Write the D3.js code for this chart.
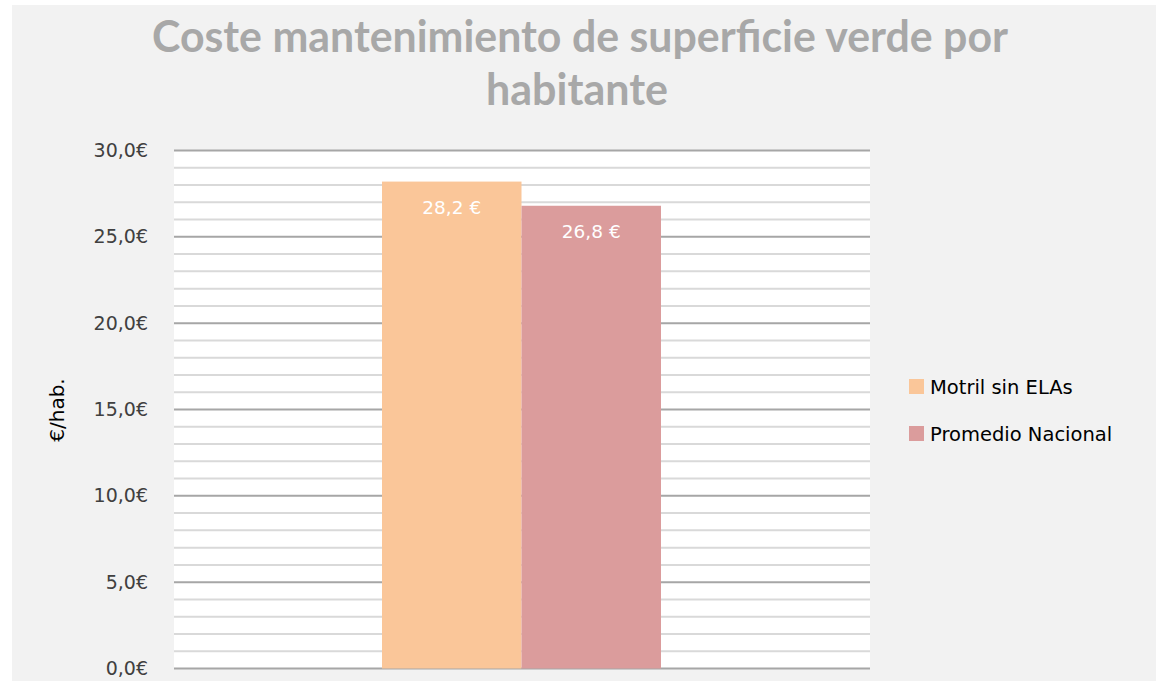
<!DOCTYPE html>
<html lang="es">
<head>
<meta charset="UTF-8">
<title>Coste mantenimiento de superficie verde por habitante</title>
<script src="https://d3js.org/d3.v7.min.js"></script>
<style>
  body { margin: 0; background: #fff; }
  svg { display: block; }
</style>
</head>
<body>
<div id="chart"></div>
<script>
// Data
const series = ["Motril sin ELAs", "Promedio Nacional"];
const values = [28.2, 26.8];
const colors = ["#fac699", "#db9c9c"];
const yTicks = [0, 5, 10, 15, 20, 25, 30];
const titleLines = ["Coste mantenimiento de superficie verde por", "habitante"];
const yLabel = "€/hab.";

const W = 1156, H = 681;
const plot = { left: 174, right: 870, top: 150.5, bottom: 668.5 };
const smallFont = "'DejaVu Sans', 'Open Sans', sans-serif";

const svg = d3.select("#chart").append("svg")
  .attr("width", W).attr("height", H);

// Chart background
svg.append("rect")
  .attr("x", 12).attr("y", 5)
  .attr("width", W - 12).attr("height", H - 5)
  .attr("fill", "#f2f2f2");

// Title
const title = svg.append("g")
  .attr("font-family", "Lato, 'Open Sans', sans-serif")
  .attr("font-weight", "bold")
  .attr("font-size", 43)
  .attr("fill", "#a8a8a8")
  .attr("text-anchor", "middle");
title.append("text").attr("x", 580).attr("y", 52).text(titleLines[0])
  .attr("textLength", 856).attr("lengthAdjust", "spacingAndGlyphs");
title.append("text").attr("x", 577).attr("y", 105).text(titleLines[1])
  .attr("textLength", 182).attr("lengthAdjust", "spacingAndGlyphs");

// Plot area
svg.append("rect")
  .attr("x", plot.left).attr("y", plot.top)
  .attr("width", plot.right - plot.left).attr("height", plot.bottom - plot.top)
  .attr("fill", "#ffffff");

const y = d3.scaleLinear().domain([0, 30]).range([plot.bottom, plot.top]);
const x = d3.scaleBand().domain(["cat"]).range([plot.left, plot.right]);
const xs = d3.scaleBand().domain(series).range([x("cat") + 208, x("cat") + x.bandwidth() - 209]);

// Minor gridlines
svg.append("g")
  .selectAll("line")
  .data(d3.range(0, 31, 1).filter(v => v % 5 !== 0))
  .join("line")
  .attr("x1", plot.left).attr("x2", plot.right)
  .attr("y1", d => y(d)).attr("y2", d => y(d))
  .attr("stroke", "#d9d9d9").attr("stroke-width", 2);

// Major gridlines
svg.append("g")
  .selectAll("line")
  .data(yTicks)
  .join("line")
  .attr("x1", plot.left).attr("x2", plot.right)
  .attr("y1", d => y(d)).attr("y2", d => y(d))
  .attr("stroke", "#a6a6a6").attr("stroke-width", 2);

// Y axis labels
const fmtTick = v => d3.format(".1f")(v).replace(".", ",") + "€";
const fmtLabel = v => d3.format(".1f")(v).replace(".", ",") + " €";
const yAxis = svg.append("g")
  .attr("transform", `translate(${plot.left - 26},0)`)
  .call(d3.axisLeft(y).tickValues(yTicks).tickSize(0).tickPadding(0).tickFormat(fmtTick));
yAxis.select(".domain").remove();
yAxis.selectAll("text")
  .attr("font-family", smallFont)
  .attr("font-size", 19)
  .attr("fill", "#404040");

svg.append("text")
  .attr("transform", "translate(64,410) rotate(-90)")
  .attr("text-anchor", "middle")
  .attr("font-family", smallFont)
  .attr("font-size", 20)
  .attr("fill", "#000")
  .text(yLabel);

// Bars
const data = series.map((s, i) => ({ name: s, value: values[i], color: colors[i] }));
svg.append("g")
  .selectAll("rect")
  .data(data)
  .join("rect")
  .attr("x", d => xs(d.name))
  .attr("width", xs.bandwidth())
  .attr("y", d => y(d.value))
  .attr("height", d => y(0) - y(d.value))
  .attr("fill", d => d.color);

// Data labels
svg.append("g")
  .selectAll("text")
  .data(data)
  .join("text")
  .attr("x", d => xs(d.name) + xs.bandwidth() / 2)
  .attr("y", d => y(d.value) + 32)
  .attr("text-anchor", "middle")
  .attr("font-family", smallFont)
  .attr("font-size", 18.5)
  .attr("fill", "#ffffff")
  .text(d => fmtLabel(d.value));

// Legend
const legend = svg.append("g")
  .selectAll("g")
  .data(data)
  .join("g")
  .attr("transform", (d, i) => `translate(909,${379 + i * 47})`);
legend.append("rect")
  .attr("width", 15).attr("height", 15)
  .attr("fill", d => d.color);
legend.append("text")
  .attr("x", 21).attr("y", 15)
  .attr("font-family", smallFont)
  .attr("font-size", 19.5)
  .attr("fill", "#000")
  .text(d => d.name);
</script>
</body>
</html>
